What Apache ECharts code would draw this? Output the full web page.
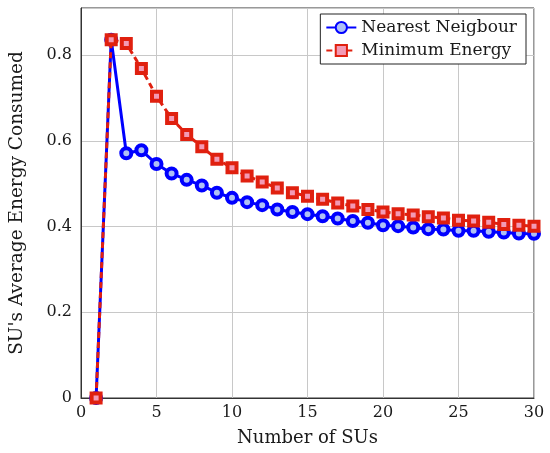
<!DOCTYPE html>
<html>
<head>
<meta charset="utf-8">
<script src="https://cdn.jsdelivr.net/npm/echarts@6/dist/echarts.min.js"></script>
<style>
  html, body { margin: 0; padding: 0; background: #fff; }
  #chart { width: 550px; height: 453px; }
</style>
</head>
<body>
<div id="chart"></div>
<script>
// number of SUs on the x axis
const numSUs = Array.from({ length: 30 }, (_, i) => i + 1);

// average energy consumed per SU
const nearestNeighbour = [0, 0.836, 0.571, 0.578, 0.546, 0.524, 0.509, 0.496, 0.479, 0.467,
  0.457, 0.450, 0.440, 0.434, 0.429, 0.424, 0.419, 0.413, 0.409, 0.403,
  0.401, 0.398, 0.394, 0.393, 0.390, 0.390, 0.388, 0.386, 0.384, 0.383];
const minimumEnergy = [0, 0.836, 0.827, 0.769, 0.704, 0.652, 0.615, 0.586, 0.557, 0.537,
  0.518, 0.504, 0.490, 0.479, 0.471, 0.464, 0.455, 0.448, 0.440, 0.434,
  0.430, 0.427, 0.423, 0.420, 0.415, 0.413, 0.410, 0.405, 0.403, 0.401];

const SERIF = "'DejaVu Serif', 'Liberation Serif', serif";
const TEXT = '#1a1a1a';
const BLUE = '#0000ff';
const RED = '#e0200f';

const pairs = ys => numSUs.map((x, i) => [x, ys[i]]);

const chart = echarts.init(document.getElementById('chart'), null, { renderer: 'canvas' });
chart.setOption({
  animation: false,
  grid: { left: 81, right: 16, top: 8, bottom: 55, show: true, borderColor: '#333', borderWidth: 1 },
  legend: {
    right: 24, top: 14,
    orient: 'vertical',
    backgroundColor: '#fff',
    borderColor: '#222', borderWidth: 1,
    padding: [5, 9, 5, 5],
    itemGap: 6,
    itemWidth: 30, itemHeight: 14,
    textStyle: { fontFamily: SERIF, fontSize: 17, color: TEXT },
    data: ['Nearest Neigbour', 'Minimum Energy'],
  },
  xAxis: {
    type: 'value',
    min: 0, max: 30, interval: 5,
    name: 'Number of SUs',
    nameLocation: 'middle',
    nameGap: 31,
    nameTextStyle: { fontFamily: SERIF, fontSize: 18, color: TEXT },
    axisLine: { show: true, lineStyle: { color: '#333' } },
    axisTick: { show: false },
    axisLabel: { fontFamily: SERIF, fontSize: 16, color: TEXT, margin: 7 },
    splitLine: { show: true, lineStyle: { color: '#c8c8c8' } },
  },
  yAxis: {
    type: 'value',
    min: 0, max: 0.91, interval: 0.2,
    name: "SU's Average Energy Consumed",
    nameLocation: 'middle',
    nameGap: 54,
    nameTextStyle: { fontFamily: SERIF, fontSize: 18.5, color: TEXT },
    axisLine: { show: true, lineStyle: { color: '#333' } },
    axisTick: { show: false },
    axisLabel: {
      fontFamily: SERIF, fontSize: 16, color: TEXT, margin: 9,
      showMaxLabel: false,
      formatter: v => (v === 0 ? '0' : String(Math.round(v * 10) / 10)),
    },
    splitLine: { show: true, lineStyle: { color: '#c8c8c8' } },
  },
  series: [
    {
      name: 'Nearest Neigbour',
      type: 'line',
      data: pairs(nearestNeighbour),
      symbol: 'circle',
      symbolSize: 10,
      lineStyle: { color: BLUE, width: 3 },
      itemStyle: { color: '#aec0f5', borderColor: BLUE, borderWidth: 4 },
      z: 2,
    },
    {
      name: 'Minimum Energy',
      type: 'line',
      data: pairs(minimumEnergy),
      symbol: 'rect',
      symbolSize: 9,
      lineStyle: { color: RED, width: 3, type: [6, 4] },
      itemStyle: { color: '#f39ab5', borderColor: RED, borderWidth: 4 },
      z: 3,
    },
  ],
});
</script>
</body>
</html>
